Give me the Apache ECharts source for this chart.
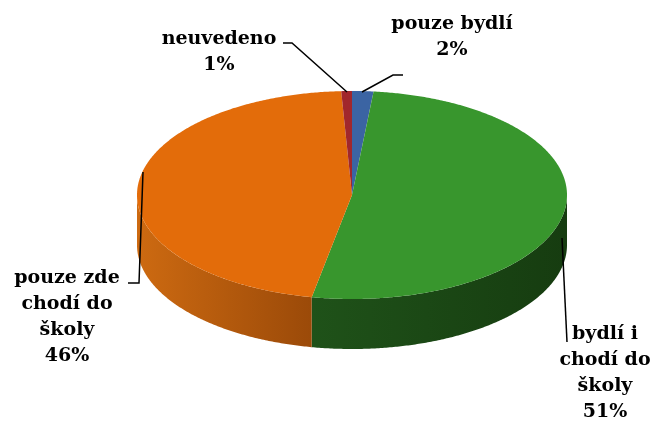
<!DOCTYPE html>
<html><head><meta charset="utf-8">
<script src="https://cdn.jsdelivr.net/npm/echarts@6/dist/echarts.min.js"></script>
<style>html,body{margin:0;padding:0;background:#fff}#c{width:654px;height:428px}</style>
</head><body><div id="c"></div>
<script>
// ---- data ----
const categories = ['pouze bydlí', 'bydlí i chodí do školy', 'pouze zde chodí do školy', 'neuvedeno'];
const values = [1.6, 51.4, 46.2, 0.8];
const labelLines = [['pouze bydlí'], ['bydlí i', 'chodí do', 'školy'], ['pouze zde', 'chodí do', 'školy'], ['neuvedeno']];

// ---- layout / style ----
const cx = 352, cy = 195, rx = 215, ry = 104, depth = 50;
const topColors = ['#3B64A3', '#38962D', '#E36C0A', '#A1272C'];
const wallColors = [['#2A4A7A', '#203A60'], ['#1F5219', '#163C10'], ['#CD6A11', '#9B4A09'], ['#7A1C20', '#601418']];
const labelPos = [[452, 37], [605, 373], [67, 317], [219, 52]];
const leaderPts = [
  [[362, 92], [393, 75], [403, 75]],
  [[562, 238], [567, 342]],
  [[143, 172], [139, 283], [128, 283]],
  [[347, 92], [292, 43], [283, 43]]
];
const total = values.reduce((a, b) => a + b, 0);
const starts = [];
values.reduce((acc, v) => { starts.push(acc); return acc + v; }, 0);

function pt(theta, dy) {
  const r = theta * Math.PI / 180;
  return [cx + rx * Math.sin(r), cy - ry * Math.cos(r) + (dy || 0)];
}
function arc(a0, a1, dy) {
  const pts = [];
  const n = Math.max(2, Math.ceil(Math.abs(a1 - a0) / 0.5));
  for (let k = 0; k <= n; k++) pts.push(pt(a0 + (a1 - a0) * k / n, dy));
  return pts;
}

function renderItem(params, api) {
  const i = params.dataIndex;
  const v = api.value(1);
  const a0 = starts[i] / total * 360;
  const a1 = a0 + v / total * 360;
  const children = [];
  const s = Math.max(a0, 90), e = Math.min(a1, 270);
  if (e > s) {
    const pts = arc(s, e, 0).concat(arc(e, s, depth));
    children.push({
      type: 'polygon', z2: 1, shape: { points: pts },
      style: { fill: { type: 'linear', x: 0, y: 0, x2: 1, y2: 0,
        colorStops: [{ offset: 0, color: wallColors[i][0] }, { offset: 1, color: wallColors[i][1] }] } }
    });
  }
  children.push({
    type: 'polygon', z2: 2, shape: { points: [[cx, cy]].concat(arc(a0, a1, 0)) },
    style: { fill: topColors[i] }
  });
  children.push({
    type: 'polyline', z2: 4, shape: { points: leaderPts[i] },
    style: { stroke: '#000', lineWidth: 1.5, fill: null }
  });
  const pct = Math.round(v / total * 100) + '%';
  children.push({
    type: 'text', z2: 5, x: labelPos[i][0], y: labelPos[i][1],
    style: { text: labelLines[i].concat([pct]).join('\n'), fill: '#000',
      font: 'bold 19px "DejaVu Serif"', lineHeight: 26, align: 'center', verticalAlign: 'middle' }
  });
  return { type: 'group', children };
}

const chart = echarts.init(document.getElementById('c'));
chart.setOption({
  animation: false,
  series: [{
    type: 'custom', coordinateSystem: 'none', renderItem,
    data: values.map((v, i) => ({ name: categories[i], value: [i, v] }))
  }]
});
</script></body></html>
